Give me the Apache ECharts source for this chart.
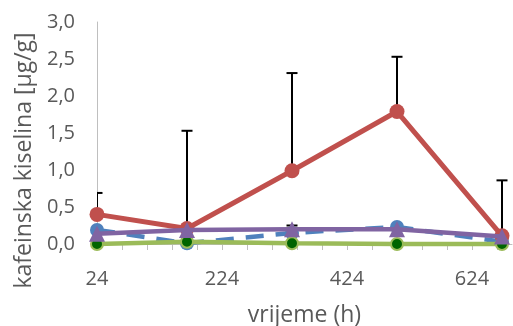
<!DOCTYPE html>
<html>
<head>
<meta charset="utf-8">
<script src="https://cdn.jsdelivr.net/npm/echarts@6/dist/echarts.min.js"></script>
<style>html,body{margin:0;padding:0;background:#fff}#c{width:513px;height:326px}</style>
</head>
<body>
<div id="c"></div>
<script>
var hours = [24, 168, 336, 504, 672];
var blueVals = [0.19, 0.01, 0.15, 0.23, 0.03];
var redVals = [0.40, 0.21, 0.99, 1.79, 0.11];
var greenVals = [0.00, 0.03, 0.01, 0.00, 0.00];
var purpleVals = [0.14, 0.19, 0.20, 0.20, 0.10];
var redErrTop = [0.69, 1.53, 2.31, 2.53, 0.86];
var blueErrTop = [null, null, 0.25, null, null];
var xTickLabels = [24, 224, 424, 624];
var xMinorTicks = [24, 64, 104, 144, 184, 224, 264, 304, 344, 384, 424, 464, 504, 544, 584, 624, 664];
var yTickLabels = [0, 0.5, 1, 1.5, 2, 2.5, 3];

function pairs(vals) { return hours.map(function (h, i) { return [h, vals[i]]; }); }
function errPairs(vals, tops) {
  var out = [];
  hours.forEach(function (h, i) { if (tops[i] != null) out.push([h, vals[i], tops[i]]); });
  return out;
}

var chart = echarts.init(document.getElementById('c'));
var FONT = '"Open Sans", sans-serif';
var labelColor = '#595959';
var axisGray = '#BFBFBF';

function errRender(params, api) {
  var p0 = api.coord([api.value(0), api.value(1)]);
  var p1 = api.coord([api.value(0), api.value(2)]);
  var st = { stroke: '#000', lineWidth: 2 };
  return {
    type: 'group',
    children: [
      { type: 'line', shape: { x1: p0[0], y1: p0[1], x2: p1[0], y2: p1[1] }, style: st },
      { type: 'line', shape: { x1: p1[0] - 5.5, y1: p1[1], x2: p1[0] + 5.5, y2: p1[1] }, style: st }
    ]
  };
}

chart.setOption({
  animation: false,
  grid: { left: 97, right: 1, top: 22, bottom: 82, containLabel: false, outerBoundsMode: 'none' },
  xAxis: {
    type: 'value', min: 24, max: 688,
    name: 'vrijeme (h)', nameLocation: 'middle', nameGap: 60,
    nameTextStyle: { fontFamily: FONT, fontSize: 23, color: labelColor },
    axisLine: { show: true, lineStyle: { color: axisGray, width: 1 } },
    axisTick: { show: true, customValues: xMinorTicks, length: 6, lineStyle: { color: axisGray } },
    axisLabel: { customValues: xTickLabels, fontFamily: FONT, fontSize: 20, color: labelColor, margin: 25 },
    splitLine: { show: false }
  },
  yAxis: {
    type: 'value', min: 0, max: 3, interval: 0.5,
    name: 'kafeinska kiselina [μg/g]', nameLocation: 'middle', nameGap: 60,
    nameTextStyle: { fontFamily: FONT, fontSize: 23, color: labelColor, padding: [0, 55, 0, 0] },
    axisLine: { show: true, lineStyle: { color: axisGray, width: 1 } },
    axisTick: { show: false },
    axisLabel: {
      customValues: yTickLabels,
      fontFamily: FONT, fontSize: 20, color: labelColor, margin: 22,
      formatter: function (v) { return v.toFixed(1).replace('.', ','); }
    },
    splitLine: { show: false }
  },
  series: [
    { type: 'custom', renderItem: errRender, data: errPairs(redVals, redErrTop), clip: true, z: 1 },
    { type: 'custom', renderItem: errRender, data: errPairs(blueVals, blueErrTop), clip: true, z: 1 },
    {
      type: 'line', data: pairs(blueVals), clip: false, z: 2,
      symbol: 'circle', symbolSize: 14,
      lineStyle: { color: '#4F81BD', width: 4.5, type: [18, 12] },
      itemStyle: { color: '#4F81BD' }
    },
    {
      type: 'line', data: pairs(redVals), clip: false, z: 3,
      symbol: 'circle', symbolSize: 15,
      lineStyle: { color: '#C0504D', width: 5 },
      itemStyle: { color: '#C0504D' }
    },
    {
      type: 'line', data: pairs(greenVals), clip: false, z: 4,
      symbol: 'circle', symbolSize: 12,
      lineStyle: { color: '#9BBB59', width: 4.5 },
      itemStyle: { color: '#006400', borderColor: '#9BBB59', borderWidth: 2 }
    },
    {
      type: 'line', data: pairs(purpleVals), clip: false, z: 5,
      symbol: 'triangle', symbolSize: 16,
      lineStyle: { color: '#8064A2', width: 4.5 },
      itemStyle: { color: '#8064A2' }
    }
  ]
});
</script>
</body>
</html>
